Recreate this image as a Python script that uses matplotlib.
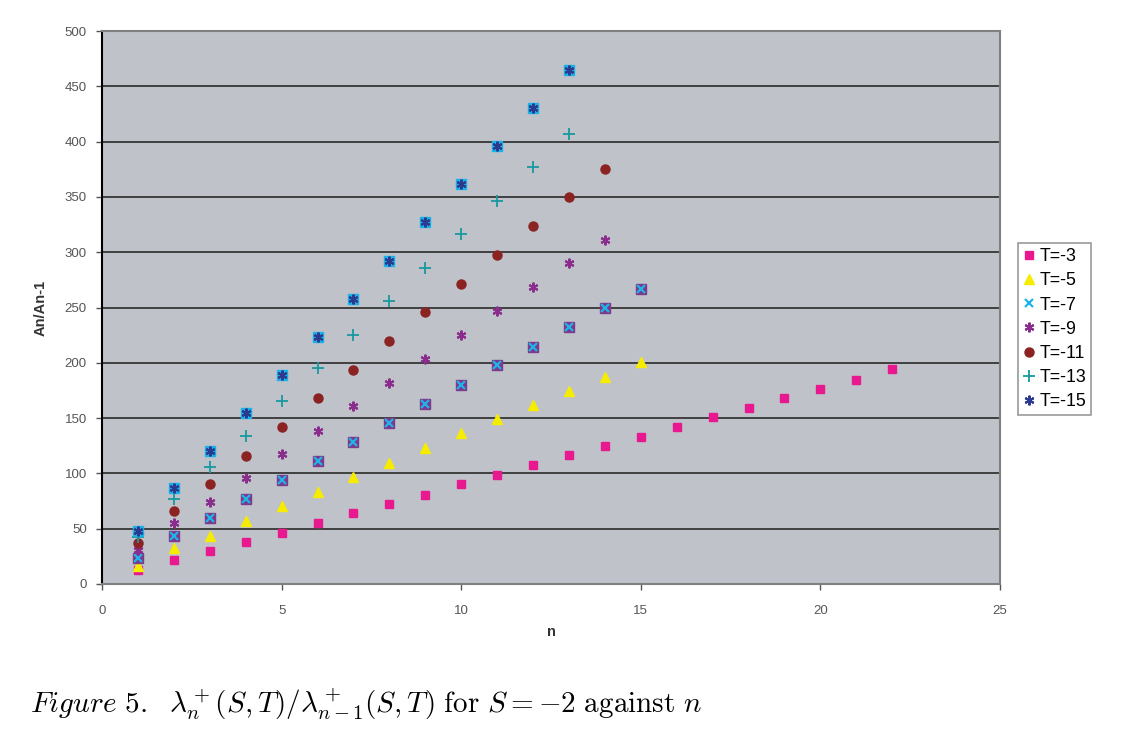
import matplotlib.pyplot as plt
import numpy as np

plt.rcParams['mathtext.fontset'] = 'cm'
plt.rcParams['font.family'] = ['Liberation Sans', 'DejaVu Sans']

# ratio A_n / A_(n-1), one list per T
t3 = [12.7, 21.7, 29.8, 38, 46, 55, 64, 72, 80.5, 90.6, 98.6, 107.6, 116.6, 124.8,
      133, 142, 151, 159, 168, 176, 184.5, 194]
t5 = [16.3, 32.5, 43.4, 57, 70.5, 83, 96.7, 109.7, 122.7, 136.3, 149, 161.6, 174.5,
      187.4, 200.5]
t7 = [23.8, 43.4, 59.4, 76.6, 94, 111.5, 128.4, 145.8, 163, 180.2, 197.6, 214.6,
      232, 249.5, 266.5]
t9 = [30.7, 55.4, 74.4, 95.5, 117.8, 138.7, 160.6, 182, 203.7, 225.4, 247, 268.5,
      290, 311]
t11 = [36.8, 66.3, 90.7, 115.7, 142.3, 167.9, 193.8, 220, 246, 271.5, 297.5, 323.4,
       349.6, 375.2]
t13 = [42.2, 76.6, 105.5, 133.8, 165.2, 195.3, 225.1, 255.6, 286, 316.7, 346.6,
       376.7, 406.9]
t15 = [48.2, 86.5, 120.3, 154.6, 189, 223.3, 257.7, 292.3, 327, 361.4, 395.6, 430,
       464.7]

labels = ['T=-3', 'T=-5', 'T=-7', 'T=-9', 'T=-11', 'T=-13', 'T=-15']

fig = plt.figure(figsize=(11.21, 7.33), dpi=100)
ax = fig.add_axes([102 / 1121, 1 - 584 / 733, 898 / 1121, 553 / 733])
ax.set_facecolor('#c0c2ca')


def n_of(vals):
    return np.arange(1, len(vals) + 1)


h3, = ax.plot(n_of(t3), t3, ls='none', marker='s', ms=5.5, mfc='#e8198f', mec='#e8198f')
h5, = ax.plot(n_of(t5), t5, ls='none', marker='^', ms=6.5, mfc='#f5ec00', mec='#f5ec00')
# purple square with cyan cross
ax.plot(n_of(t7), t7, ls='none', marker='s', ms=6.5, mfc='#7b3a8c', mec='#7b3a8c')
h7, = ax.plot(n_of(t7), t7, ls='none', marker='x', ms=5.5, mew=1.6, color='#1fb4e8')
h9, = ax.plot(n_of(t9), t9, ls='none', marker=(6, 2, 0), ms=7, mew=1.5, color='#8a2e8e')
h11, = ax.plot(n_of(t11), t11, ls='none', marker='o', ms=6.5, mfc='#8b2323', mec='#8b2323')
h13, = ax.plot(n_of(t13), t13, ls='none', marker='+', ms=8, mew=1.3, color='#17999e')
# cyan square with navy star
ax.plot(n_of(t15), t15, ls='none', marker='s', ms=7, mfc='#1ab0e8', mec='#1ab0e8')
h15, = ax.plot(n_of(t15), t15, ls='none', marker=(6, 2, 0), ms=7, mew=1.5, color='#2b3a8c')

ax.set_xlim(0, 25)
ax.set_ylim(0, 500)
ax.set_xticks(np.arange(0, 26, 5))
ax.set_yticks(np.arange(0, 501, 50))
ax.yaxis.grid(True, color='#2a2a2a', lw=1.2)
ax.set_axisbelow(True)

for side in ['top', 'right', 'bottom']:
    ax.spines[side].set_color('#808080')
    ax.spines[side].set_linewidth(1.5)
ax.spines['left'].set_color('black')
ax.spines['left'].set_linewidth(1.5)

ax.tick_params(axis='both', labelsize=9.5, colors='#555555', length=4, width=1)
ax.tick_params(axis='y', pad=7)
ax.tick_params(axis='x', pad=11)
ax.set_xlabel('n', fontsize=10.5, fontweight='bold', color='#333333', labelpad=6)
ax.set_ylabel('An/An-1', fontsize=10.5, fontweight='bold', color='#333333', labelpad=12)

leg = fig.legend([h3, h5, h7, h9, h11, h13, h15], labels,
                 loc='upper left', bbox_to_anchor=(1018 / 1121, 1 - 243 / 733),
                 fontsize=12.8, frameon=True, fancybox=False, edgecolor='#808080',
                 handlelength=0.6, handletextpad=0.3, borderpad=0.3,
                 labelspacing=0.4, borderaxespad=0)
leg.get_frame().set_linewidth(1.2)

fig.text(30 / 1121, 1 - 713 / 733,
         r'$\mathit{Figure\ 5.}\ \ \lambda_n^+(S,T)/\lambda_{n-1}^+(S,T)\ \mathrm{for}\ S=-2\ \mathrm{against}\ n$',
         fontsize=21, ha='left', va='baseline')

fig.savefig('out.png', dpi=100, facecolor='white')
